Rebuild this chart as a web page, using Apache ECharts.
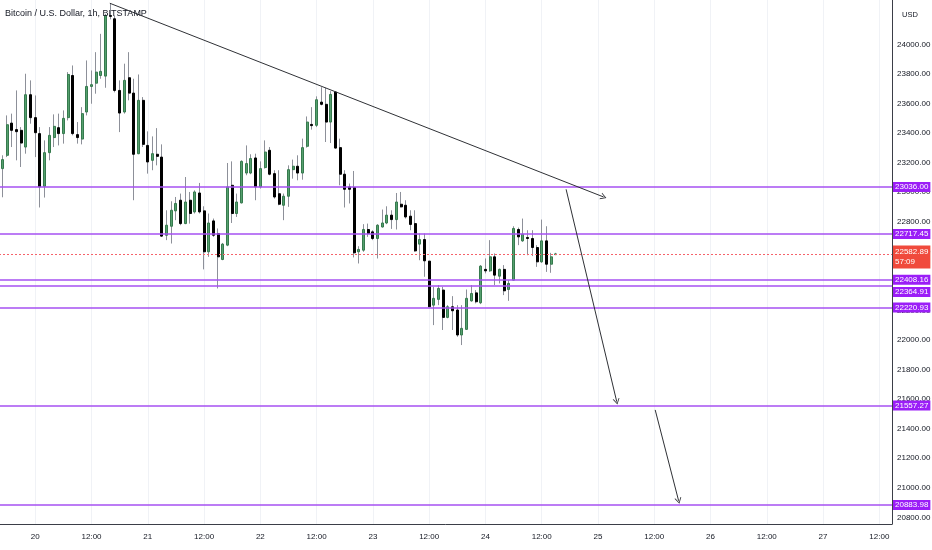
<!DOCTYPE html>
<html style="height: 100%">
<head>
    <meta charset="utf-8">
</head>
<body style="height: 100%; margin: 0; background: #fff">
    <div id="container" style="width: 932px; height: 550px"></div>
    <script type="text/javascript" src="https://cdn.jsdelivr.net/npm/echarts@6.0.0/dist/echarts.min.js"></script>
    <script type="text/javascript">
// hourly candles, first one is 19th 17:00 (hour -7 from the 20th 00:00)
var firstHour = -7;
var opens = [23160,23250,23468,23424,23419,23306,23660,23505,23397,23040,23268,23370,23437,23397,23505,23790,23390,23360,23543,23716,
    23738,23790,23786,24196,24174,23689,23543,23775,23671,23261,23622,23317,23216,23257,23238,22709,22770,22874,22946,22788,
    22946,22867,22995,22874,22597,22806,22721,22545,22642,23047,22856,22928,23130,23130,23232,23036,23167,23284,23126,22990,
    22912,22973,23153,23176,23130,23311,23459,23453,23610,23595,23475,23678,23302,23122,23036,23032,22597,22608,22748,22732,
    22687,22765,22792,22845,22815,22919,22912,22838,22788,22649,22680,22534,22236,22275,22338,22153,22225,22203,22034,22072,
    22265,22319,22252,22478,22468,22563,22432,22478,22342,22405,22748,22671,22694,22687,22626,22529,22671,22513,22578];
var highs = [23250,23520,23532,23689,23441,23802,23757,23655,23441,23351,23441,23527,23532,23554,23813,23858,23475,23576,23892,23824,
    23948,24072,24207,24275,24196,23757,23870,23948,23768,23797,23644,23412,23378,23434,23324,22878,22939,22968,22991,23103,
    23002,23013,23063,22905,22856,22822,22755,22657,23198,23209,22991,23216,23317,23257,23261,23209,23351,23306,23149,23149,
    22991,23182,23221,23250,23363,23513,23576,23649,23711,23707,23684,23684,23363,23149,23059,23144,22635,22784,22788,22743,
    22784,22883,22905,22878,22995,23002,22946,22878,22878,22721,22721,22536,22360,22372,22360,22236,22297,22236,22236,22342,
    22372,22338,22507,22552,22676,22586,22484,22507,22405,22770,22761,22822,22743,22743,22642,22815,22770,22590,22590];
var lows = [22966,23238,23306,23216,23171,23261,23464,23238,22897,22964,23216,23306,23317,23329,23486,23385,23329,23324,23520,23599,
    23667,23768,23707,24170,23676,23407,23532,23622,22946,23257,23306,23126,23149,23182,22698,22676,22653,22811,22777,22784,
    22788,22856,22856,22478,22563,22698,22349,22540,22635,22792,22833,22924,23115,23122,22946,23025,23160,23115,22957,22912,
    22811,22901,23092,23081,23085,23302,23424,23441,23588,23340,23333,23295,23047,22897,22924,22559,22518,22597,22698,22676,
    22552,22761,22784,22752,22748,22897,22822,22743,22597,22540,22428,22221,22101,22236,22068,22147,22068,22022,21966,22068,
    22259,22248,22243,22451,22461,22372,22383,22304,22265,22401,22642,22664,22574,22568,22495,22522,22461,22455,22575];
var closes = [23221,23457,23419,23410,23333,23660,23505,23403,23036,23268,23385,23446,23397,23500,23797,23397,23370,23532,23716,23728,
    23813,23818,24196,24190,23689,23536,23757,23671,23257,23622,23324,23205,23261,23243,22703,22777,22878,22924,22788,22934,
    22856,23002,22867,22597,22792,22709,22563,22649,23036,22856,22934,23209,23194,23228,23036,23160,23272,23122,22968,22919,
    22973,23153,23176,23130,23302,23475,23451,23626,23595,23475,23662,23299,23122,23020,23020,22590,22613,22748,22721,22687,
    22777,22792,22845,22815,22934,22901,22833,22782,22603,22680,22536,22225,22282,22349,22153,22225,22198,22034,22079,22282,
    22315,22259,22500,22468,22563,22439,22478,22333,22383,22755,22698,22716,22687,22626,22529,22671,22513,22563,22582.89];

var levels = [23036.00, 22717.45, 22408.16, 22364.91, 22220.93, 21557.27, 20883.98];
var lastPrice = 22582.89;
var countdown = '57:09';
var priceTicks = [20800, 21000, 21200, 21400, 21600, 21800, 22000, 22200, 22400, 22600, 22800, 23000, 23200, 23400, 23600, 23800, 24000];
// drawn lines: [hour, price] start and end
var trendLine = [[15.9, 24279], [121.2, 22968]];
var arrowOne = [[113.2, 23020], [124.0, 21583]];
var arrowTwo = [[132.2, 21527], [137.2, 20912]];

var wickData = [], bodyData = [];
for (var i = 0; i < opens.length; i++) {
    var h = firstHour + i;
    wickData.push([h, opens[i], closes[i], lows[i], highs[i]]);
    bodyData.push([h, opens[i], closes[i], Math.min(opens[i], closes[i]), Math.max(opens[i], closes[i])]);
}

var font = '"Liberation Sans", Arial, sans-serif';
var chevron = 'path://M0,10 L5,0 L10,10 L8.6,10 L5,2.6 L1.4,10 Z';

// the price-scale boxes that would overlap get pushed down a bit
function labelShift(v) {
    return v === 22364.91 ? 6 : 0;
}

function segment(pts) {
    return [{ coord: pts[0], symbol: 'none' }, { coord: pts[1], symbol: chevron, symbolSize: [7, 6] }];
}

var dom = document.getElementById('container');
var myChart = echarts.init(dom);
var option = {
    animation: false,
    backgroundColor: '#fff',
    title: [
        {
            text: 'Bitcoin / U.S. Dollar, 1h, BITSTAMP',
            left: 5, top: 9, padding: 0,
            textStyle: { fontSize: 9, fontWeight: 'normal', color: '#131722', fontFamily: font }
        },
        {
            text: 'USD',
            left: 897, top: 6,
            textStyle: { fontSize: 7.5, fontWeight: 'normal', color: '#131722', fontFamily: font }
        }
    ],
    grid: { left: -21, right: 40, top: 0, bottom: 26, outerBoundsMode: 'none', containLabel: false },
    xAxis: {
        type: 'value',
        min: -12,
        max: 182.7,
        interval: 12,
        axisLine: { onZero: false, lineStyle: { color: '#3b3e47', width: 1 } },
        axisTick: { show: false },
        splitLine: { show: true, lineStyle: { color: '#f0f2f6', width: 1 } },
        axisLabel: {
            color: '#131722', fontSize: 8, margin: 9, fontFamily: font,
            formatter: function (v) {
                if (v % 24 === 0) return String(20 + v / 24);
                return '12:00';
            }
        }
    },
    yAxis: {
        type: 'value',
        position: 'right',
        min: 20755,
        max: 24301,
        axisLine: { show: true, onZero: false, lineStyle: { color: '#3b3e47', width: 1 } },
        axisTick: { show: false },
        splitLine: { show: false },
        axisLabel: {
            customValues: priceTicks,
            color: '#131722', fontSize: 8, margin: 5, fontFamily: font,
            formatter: function (v) { return v.toFixed(2); }
        }
    },
    series: [
        {
            name: 'wicks',
            type: 'candlestick',
            data: wickData,
            encode: { x: 0, y: [1, 2, 3, 4] },
            barWidth: 1,
            silent: true,
            itemStyle: {
                color: '#8d9099', color0: '#8d9099',
                borderColor: '#8d9099', borderColor0: '#8d9099', borderColorDoji: '#8d9099',
                borderWidth: 1
            }
        },
        {
            name: 'bodies',
            type: 'candlestick',
            data: bodyData,
            encode: { x: 0, y: [1, 2, 3, 4] },
            barWidth: 2.5,
            silent: true,
            itemStyle: {
                color: '#55a06e', color0: '#000000',
                borderColor: '#367a4e', borderColor0: '#000000', borderColorDoji: '#8d9099',
                borderWidth: 1
            },
            markLine: {
                silent: true,
                animation: false,
                symbol: 'none',
                data: levels.map(function (v) {
                    return {
                        yAxis: v,
                        lineStyle: { color: '#a650f2', width: 1.5, type: 'solid' },
                        label: {
                            show: true, position: 'end', distance: 1,
                            offset: [0, labelShift(v)],
                            formatter: v.toFixed(2),
                            backgroundColor: '#9b1ef7', color: '#fff',
                            fontSize: 8, fontFamily: font, padding: [1, 2, 1, 2]
                        }
                    };
                }).concat([{
                    yAxis: lastPrice,
                    lineStyle: { color: '#f5626a', width: 1, type: [2, 2], opacity: 1 },
                    label: {
                        show: true, position: 'end', distance: 1,
                        offset: [0, 3],
                        formatter: lastPrice.toFixed(2) + '\n' + countdown,
                        backgroundColor: '#f04a3c', color: '#fff', lineHeight: 10,
                        fontSize: 8, fontFamily: font, padding: [2, 2, 1, 2]
                    }
                }])
            }
        },
        {
            name: 'drawings',
            type: 'line',
            data: [],
            silent: true,
            markLine: {
                silent: true,
                animation: false,
                lineStyle: { color: '#2f3136', width: 1, type: 'solid' },
                label: { show: false },
                data: [segment(trendLine), segment(arrowOne), segment(arrowTwo)]
            }
        }
    ]
};
myChart.setOption(option, true);
    </script>
</body>
</html>
